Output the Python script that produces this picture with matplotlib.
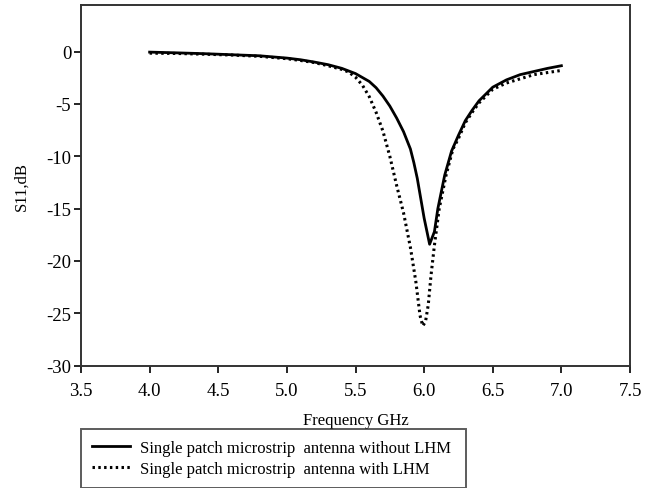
import matplotlib
matplotlib.use("Agg")
import matplotlib.pyplot as plt

# S11 без LHM (сплошная)
freq_plain = [4.0, 4.2, 4.4, 4.6, 4.8, 5.0, 5.1, 5.2, 5.3, 5.4, 5.5, 5.6, 5.65,
              5.7, 5.75, 5.8, 5.85, 5.9, 5.925, 5.95, 6.0, 6.04, 6.075, 6.1,
              6.15, 6.2, 6.25, 6.3, 6.35, 6.4, 6.5, 6.6, 6.7, 6.8, 6.9, 7.0]
s11_plain = [-0.05, -0.12, -0.2, -0.3, -0.4, -0.62, -0.78, -1.0, -1.25, -1.6,
             -2.1, -2.85, -3.45, -4.25, -5.2, -6.35, -7.65, -9.3, -10.6,
             -12.1, -15.9, -18.4, -17.2, -15.0, -11.8, -9.5, -8.0, -6.6,
             -5.6, -4.7, -3.4, -2.7, -2.2, -1.9, -1.6, -1.35]

# S11 с LHM (пунктир)
freq_lhm = [4.0, 4.2, 4.4, 4.6, 4.8, 5.0, 5.1, 5.2, 5.3, 5.4, 5.45, 5.5, 5.55,
            5.6, 5.65, 5.7, 5.75, 5.8, 5.85, 5.9, 5.94, 5.97, 5.99, 6.01,
            6.03, 6.05, 6.075, 6.11, 6.16, 6.21, 6.25, 6.3, 6.35, 6.4, 6.5,
            6.6, 6.7, 6.8, 6.9, 7.0]
s11_lhm = [-0.15, -0.18, -0.25, -0.33, -0.45, -0.68, -0.85, -1.05, -1.35,
           -1.7, -1.95, -2.45, -3.2, -4.3, -5.8, -7.6, -10.0, -12.8, -15.4,
           -18.7, -22.0, -25.2, -26.2, -25.8, -24.2, -21.4, -18.5, -15.0,
           -11.8, -9.3, -8.3, -6.8, -5.8, -4.9, -3.6, -3.0, -2.6, -2.2,
           -2.0, -1.8]

labels = ["Single patch microstrip  antenna without LHM",
          "Single patch microstrip  antenna with LHM"]

plt.rcParams["font.family"] = ["Liberation Serif", "DejaVu Serif"]
plt.rcParams["axes.unicode_minus"] = False

W, H = 652, 489
fig = plt.figure(figsize=(W / 100, H / 100), dpi=100)
ax = fig.add_axes([81 / W, 1 - 366.7 / H, (630 - 81) / W, (366.7 - 6) / H])

ax.plot(freq_plain, s11_plain, color="black", lw=2.0, label=labels[0])
ax.plot(freq_lhm, s11_lhm, color="black", lw=2.2,
        linestyle=(0, (0.8, 1.1)), label=labels[1])

ax.set_xlim(3.5, 7.5)
ax.set_ylim(-30, 4.45)
ax.set_xticks([3.5, 4.0, 4.5, 5.0, 5.5, 6.0, 6.5, 7.0, 7.5])
ax.set_xticklabels([f"{v:.1f}" for v in ax.get_xticks()])
ax.set_yticks([0, -5, -10, -15, -20, -25, -30])
ax.tick_params(direction="out", length=5, width=1.2, labelsize=13.5,
               top=False, right=False)
ax.tick_params(axis="x", pad=7)
ax.tick_params(axis="y", pad=2)
for sp in ax.spines.values():
    sp.set_linewidth(1.4)
    sp.set_color("#333333")

ax.set_xlabel("Frequency GHz", fontsize=12, labelpad=9)
ax.set_ylabel("S11,dB", fontsize=12, labelpad=12)

leg = fig.legend(loc="upper left",
                 bbox_to_anchor=(81 / W, 1 - 430 / H, (466 - 81) / W, 0),
                 mode="expand", fontsize=12, frameon=True, fancybox=False,
                 edgecolor="#333333", borderaxespad=0, handlelength=2.3,
                 handletextpad=0.6, labelspacing=0.3, borderpad=0.65)
leg.get_frame().set_linewidth(1.4)

fig.savefig("out.png", dpi=100)
